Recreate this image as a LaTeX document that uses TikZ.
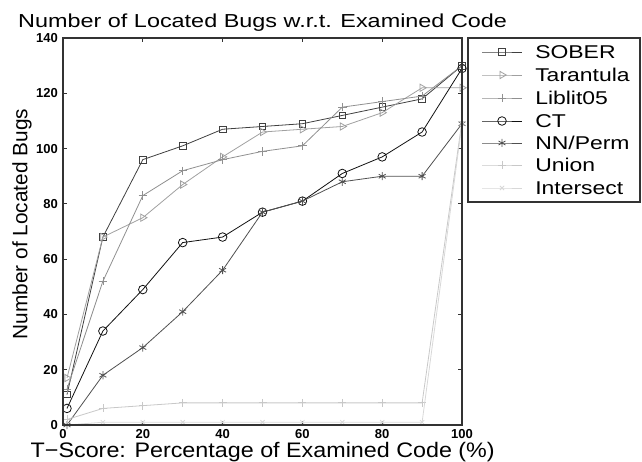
\documentclass[tikz,border=0pt]{standalone}
\usepackage{fontspec}
\setmainfont{Liberation Sans}
\usetikzlibrary{plotmarks}
\definecolor{cSober}{HTML}{404040}
\definecolor{cTar}{HTML}{A0A0A0}
\definecolor{cLib}{HTML}{909090}
\definecolor{cCT}{HTML}{111111}
\definecolor{cNN}{HTML}{505050}
\definecolor{cUni}{HTML}{C8C8C8}
\definecolor{cInt}{HTML}{D8D8D8}
\definecolor{cAxis}{HTML}{333333}
\tikzset{
  axisline/.style={draw=cAxis, line width=1.3pt},
  tickline/.style={draw=cAxis, line width=0.8pt},
  ticklabel/.style={font=\fontsize{13}{13}\selectfont\bfseries, inner sep=0pt},
  series/.style={line width=0.8pt},
  sober/.style={series, draw=cSober, mark=square, mark size=3.3pt},
  tar/.style={series, draw=cTar, mark=triangle, mark size=4.2pt, mark options={rotate=-90}},
  lib/.style={series, draw=cLib, mark=+, mark size=4.2pt},
  ct/.style={series, draw=cCT, mark=o, mark size=4.3pt},
  nn/.style={series, draw=cNN, mark=asterisk, mark size=4pt},
  uni/.style={series, draw=cUni, mark=+, mark size=4pt},
  inter/.style={series, draw=cInt, mark=x, mark size=3pt},
  legtext/.style={anchor=west, inner sep=0pt, xscale=1.24, font=\fontsize{18.5}{18.5}\selectfont}
}
\begin{document}
\begin{tikzpicture}[x=1pt,y=1pt]
\useasboundingbox (0,0) rectangle (642,461);
% title and axis labels
\node[inner sep=0pt, anchor=base west, xscale=1.245, font=\fontsize{18.8}{19}\selectfont] (title) at (18,433) {Number of Located Bugs w.r.t. Examined Code};
\node[inner sep=0pt, anchor=base east, xscale=1.11, font=\fontsize{21}{21}\selectfont] (xlabel) at (495,4) {T−Score: Percentage of Examined Code (\%)};
\node[inner sep=0pt, rotate=90, font=\fontsize{20.8}{21}\selectfont] (ylabel) at (22,237) {Number of Located Bugs};
\begin{scope}[shift={(63pt,36pt)}, x=3.99pt, y=2.764pt]
  % ticks
  \foreach \i in {0,20,...,100} {
    \draw[tickline] (\i,0) -- ++(0,4pt);
    \draw[tickline] (\i,140) -- ++(0,-4pt);
    \node[ticklabel, anchor=base, yshift=-13pt] at (\i,0) {\i};
  }
  \foreach \j in {0,20,...,140} {
    \draw[tickline] (0,\j) -- ++(4pt,0);
    \draw[tickline] (100,\j) -- ++(-4pt,0);
    \node[ticklabel, anchor=east, xshift=-5pt] at (0,\j) {\j};
  }
  % data
  \draw[sober] plot coordinates {(1,11) (10,68) (20,96) (30,101) (40,107) (50,108) (60,109) (70,112) (80,115) (90,118) (100,130)};
  \draw[tar] plot coordinates {(1,17) (10,68) (20,75) (30,87) (40,97) (50,106) (60,107) (70,108) (80,113) (90,122) (100,122)};
  \draw[lib] plot coordinates {(1,13) (10,52) (20,83) (30,92) (40,96) (50,99) (60,101) (70,115) (80,117) (90,119) (100,130)};
  \draw[ct] plot coordinates {(1,6) (10,34) (20,49) (30,66) (40,68) (50,77) (60,81) (70,91) (80,97) (90,106) (100,129)};
  \draw[nn] plot coordinates {(1,0) (10,18) (20,28) (30,41) (40,56) (50,77) (60,81) (70,88) (80,90) (90,90) (100,109)};
  \draw[uni] plot coordinates {(1,2) (10,6) (20,7) (30,8) (40,8) (50,8) (60,8) (70,8) (80,8) (90,8) (100,110)};
  \draw[inter] plot coordinates {(1,0) (10,1) (20,1) (30,1) (40,1) (50,1) (60,1) (70,1) (80,1) (90,1) (100,109)};
  % axis box
  \draw[axisline] (0,0) rectangle (100,140);
\end{scope}
% legend
\draw[draw=cAxis, line width=1.1pt, fill=white] (468,259) rectangle (640,423);
\foreach \y/\st in {409/sober, 386/tar, 363/lib, 340/ct, 318/nn, 296/uni, 273/inter} {
  \draw[\st, mark indices={2}] plot coordinates {(482,\y) (502,\y) (522,\y)};
}
\node[legtext] (l1) at (535,409) {SOBER};
\node[legtext] (l2) at (535,386) {Tarantula};
\node[legtext] (l3) at (535,363) {Liblit05};
\node[legtext] (l4) at (535,340) {CT};
\node[legtext] (l5) at (535,318) {NN/Perm};
\node[legtext] (l6) at (535,296) {Union};
\node[legtext] (l7) at (535,273) {Intersect};
\end{tikzpicture}
\end{document}
